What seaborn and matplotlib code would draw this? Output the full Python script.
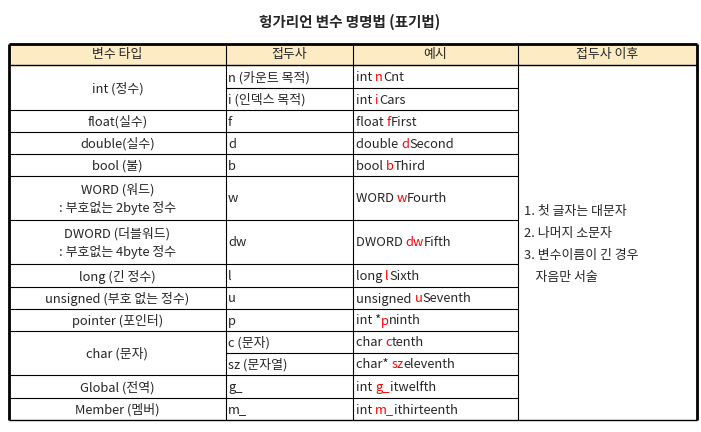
import matplotlib
matplotlib.use("Agg")
import matplotlib.pyplot as plt
import seaborn as sns
from matplotlib.font_manager import FontProperties

title = "헝가리언 변수 명명법 (표기법)"
headers = ["변수 타입", "접두사", "예시", "접두사 이후"]

# type column: (label, number of sub rows)
types = [("int (정수)", 2), ("float(실수)", 1), ("double(실수)", 1), ("bool (불)", 1),
         ("WORD (워드)\n: 부호없는 2byte 정수", 1), ("DWORD (더블워드)\n: 부호없는 4byte 정수", 1),
         ("long (긴 정수)", 1), ("unsigned (부호 없는 정수)", 1), ("pointer (포인터)", 1),
         ("char (문자)", 2), ("Global (전역)", 1), ("Member (멤버)", 1)]
prefixes = ["n (카운트 목적)", "i (인덱스 목적)", "f", "d", "b", "w", "dw", "l", "u", "p",
            "c (문자)", "sz (문자열)", "g_", "m_"]
ex_head = ["int ", "int ", "float ", "double ", "bool ", "WORD ", "DWORD ", "long ", "unsigned ",
           "int *", "char ", "char* ", "int ", "int "]
ex_pre = ["n", "i", "f", "d", "b", "w", "dw", "l", "u", "p", "c", "sz", "g_", "m_"]
ex_tail = ["Cnt", "Cars", "First", "Second", "Third", "Fourth", "Fifth", "Sixth", "Seventh",
           "ninth", "tenth", "eleventh", "itwelfth", "ithirteenth"]
rules = ["1. 첫 글자는 대문자", "2. 나머지 소문자", "3. 변수이름이 긴 경우", "    자음만 서술"]

# layout in pixels
col_x = [9, 226, 353, 518, 697]
row_y = [65, 88, 110, 132, 154, 176, 220, 264, 287, 309, 331, 353, 375, 398, 420]
head_top = 44

sns.set_theme(style="white")
plt.rcParams["font.family"] = ["Noto Sans CJK KR", "DejaVu Sans"]
fig = plt.figure(figsize=(7.01, 4.32), dpi=100)
ax = fig.add_axes([0, 0, 1, 1])
ax.set_xlim(0, 701)
ax.set_ylim(432, 0)
ax.axis("off")

fs = 9.3
ax.text(350, 22, title, ha="center", va="center", fontsize=10.5, fontweight="bold")

# header
ax.fill_between([col_x[0], col_x[-1]], head_top, row_y[0], color="#FDEBC4", zorder=0)
for i, h in enumerate(headers):
    ax.text((col_x[i] + col_x[i + 1]) / 2, (head_top + row_y[0]) / 2, h,
            ha="center", va="center", fontsize=fs)

# grid lines
ax.hlines(head_top, col_x[0], col_x[-1], color="black", lw=2)
ax.hlines(row_y[0], col_x[0], col_x[-1], color="black", lw=1)
ax.hlines(row_y[-1], col_x[0], col_x[-1], color="black", lw=1)
ax.vlines(col_x[0], head_top, row_y[-1], color="black", lw=2)
ax.vlines(col_x[-1], head_top, row_y[-1], color="black", lw=2)
for x in col_x[1:-1]:
    ax.vlines(x, head_top, row_y[-1], color="black", lw=0.8)
for y in row_y[1:-1]:
    ax.hlines(y, col_x[1], col_x[3], color="black", lw=0.8)

# type column
r = 0
for label, n in types:
    y0, y1 = row_y[r], row_y[r + n]
    if r > 0:
        ax.hlines(y0, col_x[0], col_x[1], color="black", lw=0.8)
    ax.text((col_x[0] + col_x[1]) / 2, (y0 + y1) / 2 + 1, label, ha="center", va="center",
            fontsize=fs, linespacing=1.45)
    r += n

fig.canvas.draw()
renderer = fig.canvas.get_renderer()
prop = FontProperties(family=["Noto Sans CJK KR", "DejaVu Sans"], size=fs)


def advance(s):
    w1, _, _ = renderer.get_text_width_height_descent(s + "|", prop, ismath=False)
    w2, _, _ = renderer.get_text_width_height_descent("|", prop, ismath=False)
    return w1 - w2


for i in range(len(prefixes)):
    yc = (row_y[i] + row_y[i + 1]) / 2 + 1
    ax.text(col_x[1] + 2, yc, prefixes[i], ha="left", va="center", fontsize=fs)
    x0 = col_x[2] + 3
    ax.text(x0, yc, ex_head[i], ha="left", va="center", fontsize=fs)
    ax.text(x0 + advance(ex_head[i]), yc, ex_pre[i], ha="left", va="center",
            fontsize=fs, color="#FF0000")
    ax.text(x0 + advance(ex_head[i] + ex_pre[i]), yc, ex_tail[i], ha="left", va="center",
            fontsize=fs)

for k, line in enumerate(rules):
    ax.text(col_x[3] + 6, 212 + k * 22, line, ha="left", va="center", fontsize=fs)

fig.savefig("out.png", dpi=100)
